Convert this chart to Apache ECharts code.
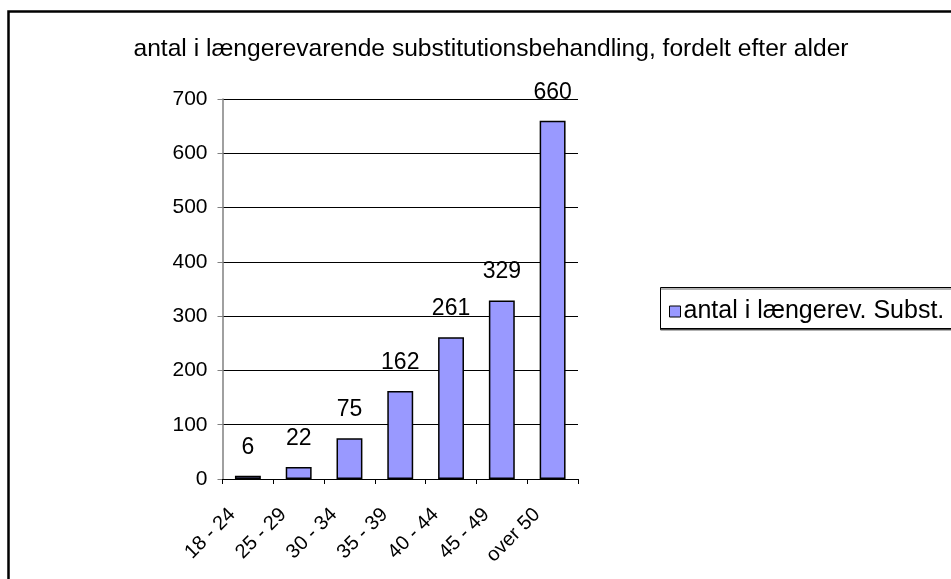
<!DOCTYPE html>
<html>
<head>
<meta charset="utf-8">
<script src="https://cdn.jsdelivr.net/npm/echarts@6/dist/echarts.min.js"></script>
<style>
html,body{margin:0;padding:0;background:#fff;}
#c{width:951px;height:579px;}
</style>
</head>
<body>
<div id="c"></div>
<script>
var titleText = 'antal i længerevarende substitutionsbehandling, fordelt efter alder';
var seriesName = 'antal i længerev. Subst.';
var categories = ['18 - 24', '25 - 29', '30 - 34', '35 - 39', '40 - 44', '45 - 49', 'over 50'];
var values = [6, 22, 75, 162, 261, 329, 660];
var yTicks = [0, 100, 200, 300, 400, 500, 600, 700];

var FONT = 'Liberation Sans, Arial, sans-serif';
var chart = echarts.init(document.getElementById('c'), null, {renderer: 'canvas'});
chart.setOption({
  animation: false,
  backgroundColor: '#ffffff',
  title: {
    text: titleText,
    left: 486, top: 32, textAlign: 'center',
    textStyle: {fontFamily: FONT, fontSize: 24.6, fontWeight: 'normal', color: '#000'}
  },
  graphic: [
    {type: 'rect', z: -1, shape: {x: 8.5, y: 11.5, width: 1100, height: 1000},
     style: {fill: 'none', stroke: '#000', lineWidth: 2.5}},
    {type: 'rect', z: 0, shape: {x: 660.5, y: 287.5, width: 400, height: 41},
     style: {fill: '#fff', stroke: '#000', lineWidth: 1,
             shadowColor: 'rgba(0,0,0,0.6)', shadowOffsetY: 1.5, shadowBlur: 0}}
  ],
  legend: {
    left: 664, top: 294, z: 10,
    itemWidth: 11, itemHeight: 11, itemGap: 5,
    icon: 'rect',
    itemStyle: {borderColor: '#000', borderWidth: 1},
    textStyle: {fontFamily: FONT, fontSize: 25, color: '#000', padding: [0,0,0,-2]},
    data: [seriesName]
  },
  grid: {left: 222.5, right: 373, top: 99, bottom: 100, containLabel: false},
  xAxis: {
    type: 'category', data: categories,
    axisLine: {lineStyle: {color: '#000', width: 1}},
    axisTick: {show: true, alignWithLabel: false, length: 5, lineStyle: {color: '#000'}},
    axisLabel: {rotate: 45, margin: 17, padding: [0, 22, 0, 0],
      fontFamily: FONT, fontSize: 20, color: '#000'}
  },
  yAxis: {
    type: 'value', min: 0, max: 700, interval: 100,
    axisLine: {show: true, lineStyle: {color: '#808080', width: 1.5}},
    axisTick: {show: true, length: 5, lineStyle: {color: '#808080'}},
    splitLine: {show: true, lineStyle: {color: '#000', width: 1}},
    axisLabel: {margin: 15, fontFamily: FONT, fontSize: 21, color: '#000',
      formatter: function (v) { return yTicks.indexOf(v) >= 0 ? String(v) : ''; }}
  },
  series: [{
    name: seriesName, type: 'bar', data: values,
    barCategoryGap: '49%',
    itemStyle: {color: '#9999ff', borderColor: '#000', borderWidth: 1.5},
    label: {show: true, position: 'top', distance: 17,
      fontFamily: FONT, fontSize: 23, color: '#000'}
  }]
});
</script>
</body>
</html>
